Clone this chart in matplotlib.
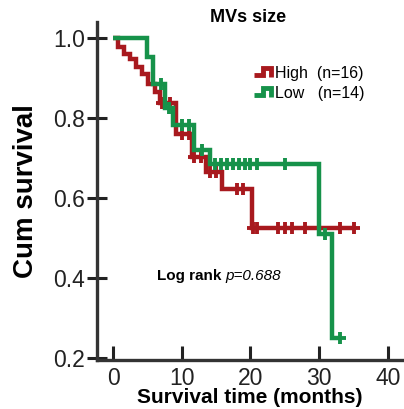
import numpy as np
import matplotlib
matplotlib.use("Agg")
import matplotlib.pyplot as plt
from matplotlib.lines import Line2D
from matplotlib.legend_handler import HandlerBase

plt.rcParams['font.family'] = ['Liberation Sans', 'DejaVu Sans']

# Kaplan-Meier curves (time in months, cum survival)
high_t = [0, 0.75, 1.6, 2.4, 3.4, 4.2, 5.1, 6.1, 6.9, 9.2, 11.5, 13.5, 15.9, 20.2, 35.3]
high_s = [1.0, 0.978, 0.962, 0.949, 0.928, 0.912, 0.885, 0.867, 0.838, 0.760,
          0.703, 0.666, 0.624, 0.527, 0.527]
high_cens = [7.1, 8.3, 10.0, 11.0, 11.8, 12.8, 14.1, 15.0, 18.0, 18.9,
             20.3, 20.9, 24.0, 25.0, 26.0, 27.9, 30.0, 33.0, 35.0]

low_t = [0, 5.0, 5.8, 7.6, 8.7, 11.8, 14.1, 30.0, 31.8, 33.3]
low_s = [1.0, 0.953, 0.887, 0.827, 0.783, 0.722, 0.687, 0.512, 0.252, 0.252]
low_cens = [7.0, 8.1, 10.0, 11.0, 12.9, 14.8, 15.7, 16.6, 17.5, 18.3, 19.2,
            20.0, 20.9, 25.0, 30.8, 33.0]

red = '#a8191e'
green = '#16924a'


def surv_at(times, surv, c):
    i = np.searchsorted(times, c, side='right') - 1
    return np.array(surv)[i]


class StepHandler(HandlerBase):
    # little step-shaped legend key
    def create_artists(self, legend, orig_handle, xdescent, ydescent,
                       width, height, fontsize, trans):
        xs = np.array([0.0, 0.5, 0.5, 0.92, 0.92]) * width - xdescent
        ys = np.array([0.25, 0.25, 0.85, 0.85, 0.05]) * height - ydescent
        ln = Line2D(xs, ys, color=orig_handle.get_color(), lw=3.5,
                    solid_joinstyle='miter', solid_capstyle='butt')
        ln.set_transform(trans)
        return [ln]


fig = plt.figure(figsize=(4.04, 4.09), dpi=100)
ax = fig.add_axes([97 / 404, 1 - 360 / 409, 306 / 404, 338 / 409])

curves = [(high_t, high_s, high_cens, red), (low_t, low_s, low_cens, green)]
handles = []
for t, s, cens, col in curves:
    ln, = ax.step(t, s, where='post', color=col, lw=3.2,
                  solid_joinstyle='miter', solid_capstyle='butt')
    ax.plot(cens, surv_at(t, s, cens), ls='none', marker='+', ms=8.5,
            mew=2.8, color=col)
    handles.append(ln)

ax.set_xlim(-2.33, 42.2)
ax.set_ylim(0.196, 1.041)
ax.set_xticks([0, 10, 20, 30, 40])
ax.set_yticks([0.2, 0.4, 0.6, 0.8, 1.0])
ax.set_yticklabels(['0.2', '0.4', '0.6', '0.8', '1.0'])

for side in ['top', 'right']:
    ax.spines[side].set_visible(False)
for side in ['left', 'bottom']:
    ax.spines[side].set_linewidth(2.4)
    ax.spines[side].set_color('#333333')

ax.tick_params(axis='y', direction='inout', length=15, width=2.2,
               color='#222222', labelsize=16.5, labelcolor='#222222', pad=1)
ax.tick_params(axis='x', direction='in', length=10, width=2.2,
               color='#222222', labelsize=16.5, labelcolor='#222222', pad=5)

ax.set_xlabel('Survival time (months)', fontsize=15, fontweight='bold', labelpad=-1.5)
ax.set_ylabel('Cum survival', fontsize=20, fontweight='bold', labelpad=10)

fig.text(248 / 404, 1 - 17 / 409, 'MVs size', fontsize=13, fontweight='bold',
         ha='center', va='center')

t1 = ax.text(6.4, 0.406, 'Log rank', fontsize=11, fontweight='bold',
             ha='left', va='center')
ax.annotate('p=0.688', xy=(1, 0.5), xycoords=t1, xytext=(3, 0),
            textcoords='offset points', fontsize=11, fontstyle='italic',
            ha='left', va='center')

ax.legend(handles, ['High  (n=16)', 'Low   (n=14)'],
          handler_map={h: StepHandler() for h in handles},
          loc='upper left', bbox_to_anchor=(246 / 404, 1 - 58 / 409),
          bbox_transform=fig.transFigure, frameon=False, fontsize=11.5,
          handlelength=1.15, handletextpad=0.15, borderpad=0,
          labelspacing=0.3)

fig.savefig('out.png', dpi=100)
